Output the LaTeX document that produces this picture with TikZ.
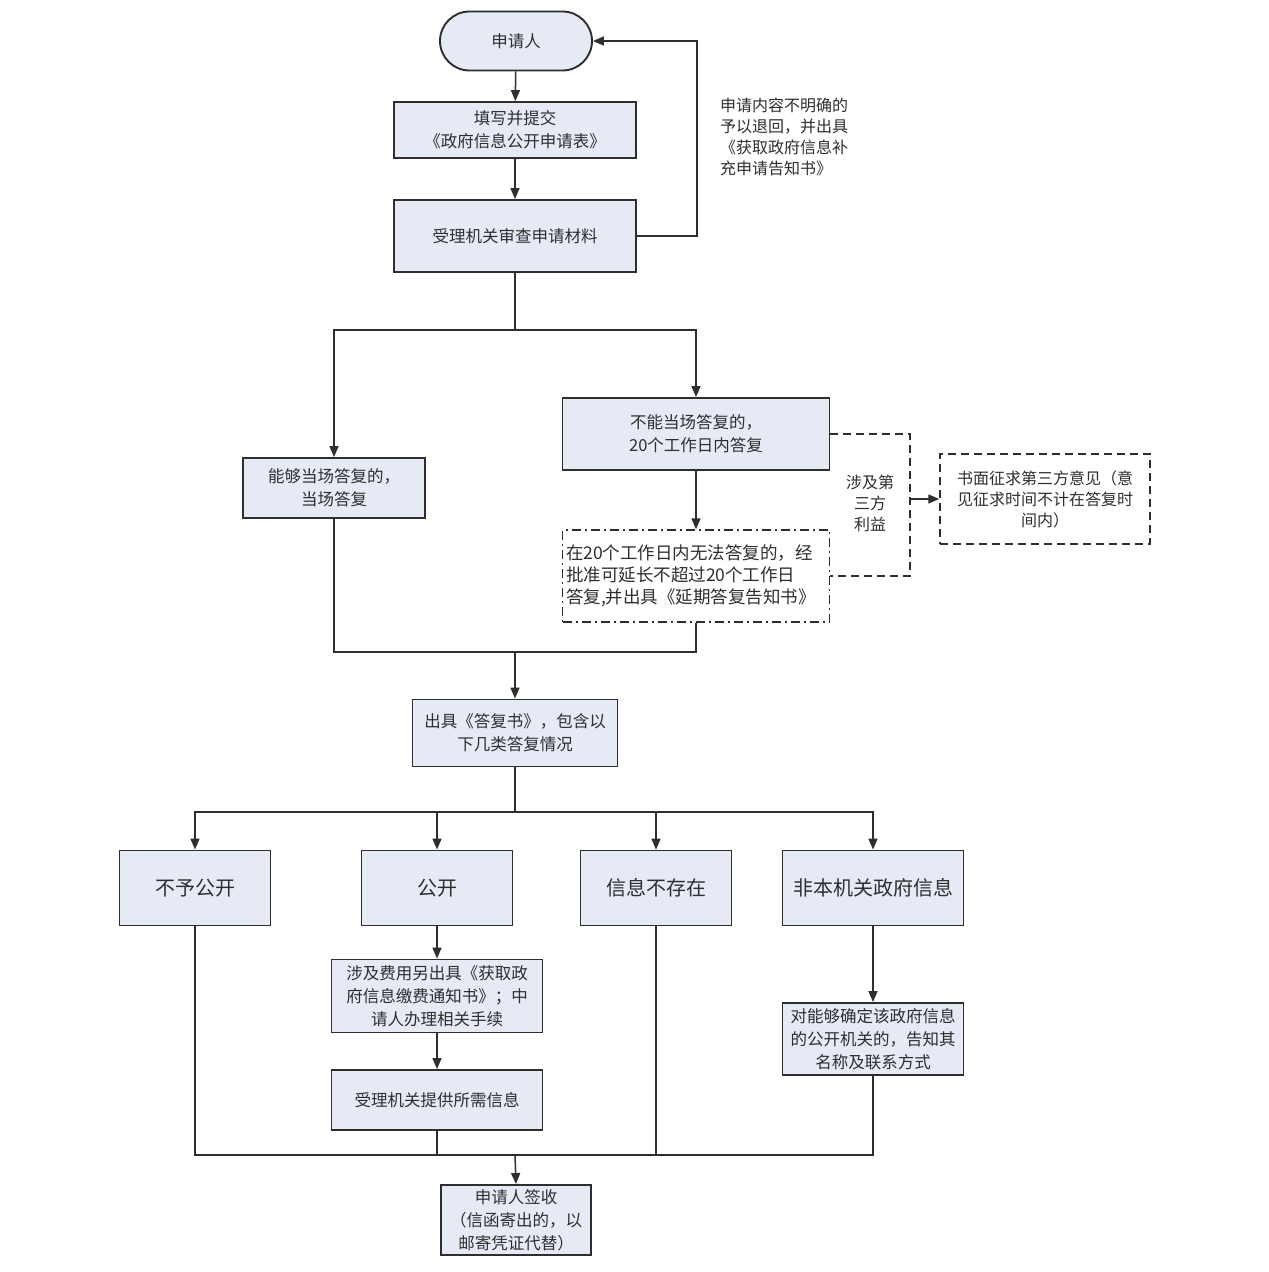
\documentclass[tikz,border=0pt]{standalone}
\usepackage{fontspec}
\setmainfont{Noto Sans CJK SC}
\usetikzlibrary{arrows.meta,positioning}
\definecolor{boxfill}{HTML}{E6EAF5}
\definecolor{edge}{HTML}{2E2E2E}
\definecolor{txt}{HTML}{2E2E2E}
\begin{document}
\begin{tikzpicture}[x=1pt,y=-1pt,
  every node/.style={text=txt},
  box/.style={draw=edge,line width=1.9pt,fill=boxfill,align=center,inner sep=2pt,
    font=\fontsize{16.5}{23}\selectfont},
  bigbox/.style={box,font=\fontsize{20}{24}\selectfont},
  dbox/.style={draw=edge,line width=1.5pt,fill=white,dash pattern=on 8pt off 5pt,
    font=\fontsize{16}{21}\selectfont,align=center},
  ddbox/.style={draw=edge,line width=1.5pt,fill=white,dash pattern=on 9pt off 4pt on 2pt off 4pt,
    font=\fontsize{17.5}{22}\selectfont,align=left},
  ln/.style={draw=edge,line width=1.5pt},
  arr/.style={ln,-{Triangle[length=11pt,width=9pt]}},
  lbl/.style={font=\fontsize{16}{21}\selectfont,align=left,inner sep=0pt}
]
\useasboundingbox (0,0) rectangle (1269,1272);
\fill[white] (0,0) rectangle (1269,1272);

% top part
\node[box,rounded corners=29.5pt,minimum width=152,minimum height=59] (start) at (516,41) {申请人};
\node[box,minimum width=242,minimum height=56] (fill) at (515,130) {填写并提交\\《政府信息公开申请表》};
\node[box,minimum width=242,minimum height=72] (check) at (515,236) {受理机关审查申请材料};
\node[lbl,anchor=north west] (note) at (720,98) {申请内容不明确的\\予以退回，并出具\\《获取政府信息补\\充申请告知书》};

\draw[arr] (start) -- (fill);
\draw[arr] (fill) -- (check);
\coordinate (loopx) at (697,0);
\draw[arr] (check.east) -- (check.east -| loopx) |- (start.east);

% branches
\node[box,minimum width=182,minimum height=60] (now) at (334,488) {能够当场答复的，\\当场答复};
\node[box,minimum width=267,minimum height=72] (later) at (696,434) {不能当场答复的，\\20个工作日内答复};
\node[ddbox,minimum width=267,minimum height=92,text width=260] (ext) at (696,576) {在20个工作日内无法答复的，经\\批准可延长不超过20个工作日\\答复,并出具《延期答复告知书》};
\node[dbox,minimum width=210,minimum height=90,text width=202] (third) at (1045,499) {书面征求第三方意见（意\\见征求时间不计在答复时\\间内）};
\node[lbl,align=center] (tlabel) at (870,503) {涉及第\\三方\\利益};

\coordinate (s1) at (515,330);
\draw[ln] (check.south) -- (s1);
\draw[arr] (s1) -| (now.north);
\draw[arr] (s1) -| (later.north);
\draw[arr] (later.south) -- (ext.north);
\coordinate (brk) at (910,499);
\draw[ln,dash pattern=on 8pt off 5pt] (later.east) -| (brk) |- (ext.east);
\draw[arr] (brk) -- (third.west);

% reply
\node[box,minimum width=205,minimum height=67] (reply) at (515,733) {出具《答复书》，包含以\\下几类答复情况};
\coordinate (m1) at (515,652);
\draw[ln] (now.south) |- (m1);
\draw[ln] (ext.south) |- (m1);
\draw[arr] (m1) -- (reply.north);

% four categories
\node[bigbox,minimum width=151,minimum height=75] (c1) at (195,888) {不予公开};
\node[bigbox,minimum width=151,minimum height=75] (c2) at (437,888) {公开};
\node[bigbox,minimum width=151,minimum height=75] (c3) at (656,888) {信息不存在};
\node[bigbox,minimum width=181,minimum height=75] (c4) at (873,888) {非本机关政府信息};

\coordinate (s2) at (515,812);
\draw[ln] (reply.south) -- (s2);
\draw[arr] (s2) -| (c1.north);
\draw[arr] (s2) -| (c2.north);
\draw[arr] (s2) -| (c3.north);
\draw[arr] (s2) -| (c4.north);

\node[box,minimum width=211,minimum height=73] (fee) at (437,996) {涉及费用另出具《获取政\\府信息缴费通知书》；中\\请人办理相关手续};
\node[box,minimum width=211,minimum height=60] (prov) at (437,1100) {受理机关提供所需信息};
\node[box,minimum width=181,minimum height=72] (other) at (873,1039) {对能够确定该政府信息\\的公开机关的，告知其\\名称及联系方式};

\draw[arr] (c2) -- (fee);
\draw[arr] (fee) -- (prov);
\draw[arr] (c4) -- (other);

% final
\node[box,minimum width=150,minimum height=70] (sign) at (516,1220) {申请人签收\\（信函寄出的，以\\邮寄凭证代替）};
\coordinate (m2) at (515,1155);
\draw[ln] (c1.south) |- (m2);
\draw[ln] (prov.south) |- (m2);
\draw[ln] (c3.south) |- (m2);
\draw[ln] (other.south) |- (m2);
\draw[arr] (m2) -- (sign.north);
\end{tikzpicture}
\end{document}
